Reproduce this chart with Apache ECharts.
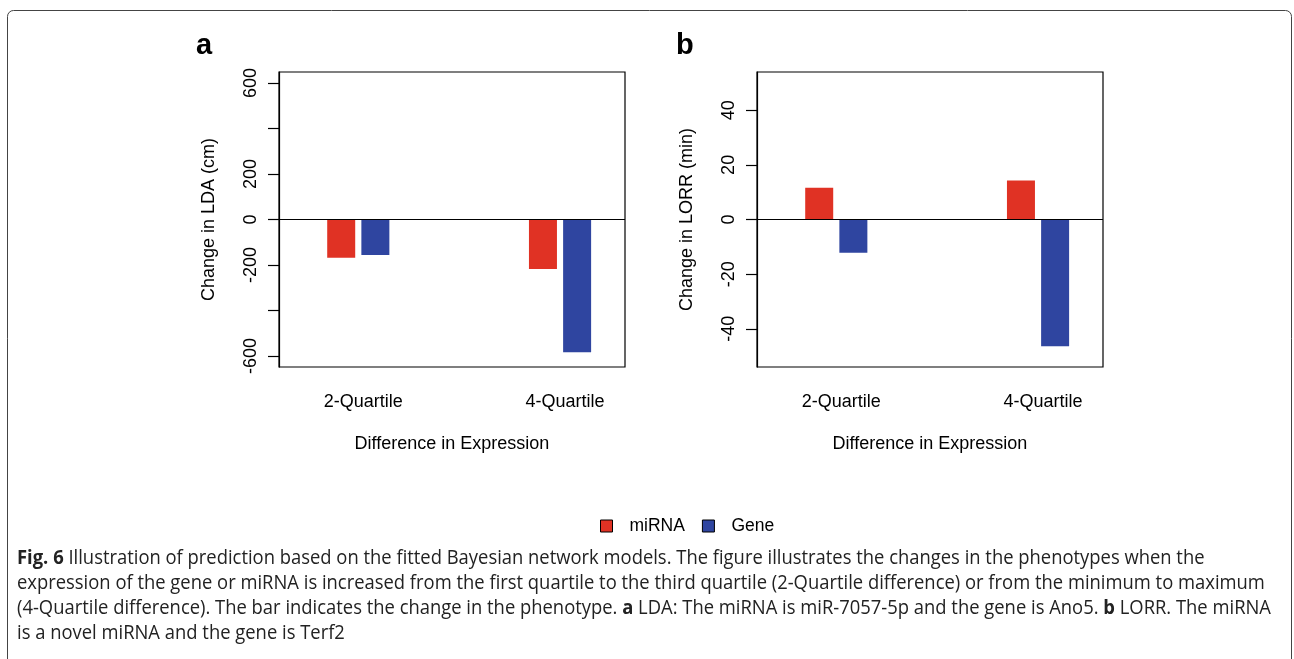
<!DOCTYPE html>
<html>
<head>
<meta charset="utf-8">
<title>Fig. 6 – Bayesian network prediction</title>
<script src="https://cdn.jsdelivr.net/npm/echarts@6/dist/echarts.min.js"></script>
<style>
  html, body { margin: 0; padding: 0; background: #fff; }
  #chart { width: 1294px; height: 659px; }
</style>
</head>
<body>
<div id="chart"></div>
<script>
// ---- data -------------------------------------------------------------
const categories = ['2-Quartile', '4-Quartile'];
const seriesNames = ['miRNA', 'Gene'];

// panel a: change in LDA (cm)
const ldaMiRNA = [-168, -218];
const ldaGene = [-156, -583];
const ldaTicks = [-600, -400, -200, 0, 200, 400, 600];
const ldaTickLabels = [-600, -200, 0, 200, 600];

// panel b: change in LORR (min)
const lorrMiRNA = [11.6, 14.3];
const lorrGene = [-12.2, -46.4];
const lorrTicks = [-40, -20, 0, 20, 40];
const lorrTickLabels = [-40, -20, 0, 20, 40];

const captionLines = [
  '{b|Fig. 6} Illustration of prediction based on the fitted Bayesian network models. The figure illustrates the changes in the phenotypes when the',
  'expression of the gene or miRNA is increased from the first quartile to the third quartile (2-Quartile difference) or from the minimum to maximum',
  '(4-Quartile difference). The bar indicates the change in the phenotype. {b|a} LDA: The miRNA is miR-7057-5p and the gene is Ano5. {b|b} LORR. The miRNA',
  'is a novel miRNA and the gene is Terf2'
];

// ---- styling ----------------------------------------------------------
const RED = '#E03224';
const BLUE = '#2F45A0';
const FONT = 'Liberation Sans, Arial, Helvetica, sans-serif';
const CAPTION_FONT = 'Open Sans';

const chart = echarts.init(document.getElementById('chart'), null, { renderer: 'canvas' });

const panels = [
  { left: 279, yName: 'Change in LDA (cm)', range: 648, ticks: ldaTicks, labels: ldaTickLabels, mi: ldaMiRNA, ge: ldaGene },
  { left: 757, yName: 'Change in LORR (min)', range: 54, ticks: lorrTicks, labels: lorrTickLabels, mi: lorrMiRNA, ge: lorrGene }
];

const grid = [], xAxis = [], yAxis = [], series = [];
panels.forEach((p, i) => {
  grid.push({
    left: p.left, top: 72, width: 346, height: 295,
    show: true, borderColor: '#000', borderWidth: 1.2, backgroundColor: 'transparent'
  });
  xAxis.push({
    gridIndex: i, type: 'value', min: 0.607, max: 2.322,
    axisLine: { show: false }, axisTick: { show: false }, splitLine: { show: false },
    axisLabel: {
      customValues: [1, 2],
      formatter: v => categories[Math.round(v) - 1],
      fontFamily: FONT, fontSize: 18, color: '#000', margin: 26, padding: [0, 0, 0, 10]
    },
    name: 'Difference in Expression', nameLocation: 'middle', nameGap: 68,
    nameTextStyle: { fontFamily: FONT, fontSize: 18, color: '#000' }
  });
  yAxis.push({
    gridIndex: i, type: 'value', min: -p.range, max: p.range,
    splitLine: { show: false },
    axisLine: { show: true, lineStyle: { color: '#000', width: 1.2 } },
    axisTick: { show: true, length: 11, customValues: p.ticks, lineStyle: { color: '#000', width: 1.2 } },
    axisLabel: {
      customValues: p.labels, rotate: 90, margin: 19,
      fontFamily: FONT, fontSize: 18, color: '#000'
    },
    name: p.yName, nameLocation: 'middle', nameGap: 61, nameRotate: 90,
    nameTextStyle: { fontFamily: FONT, fontSize: 18, color: '#000' }
  });
  [[seriesNames[0], p.mi, RED], [seriesNames[1], p.ge, BLUE]].forEach(([name, vals, color], k) => {
    const s = {
      name, type: 'bar', xAxisIndex: i, yAxisIndex: i,
      data: categories.map((c, j) => [j + 1, vals[j]]),
      barWidth: 28, barGap: '22%',
      itemStyle: { color },
      emphasis: { disabled: true },
      silent: true
    };
    if (k === 0) {
      // horizontal reference line at zero
      s.markLine = {
        silent: true, symbol: ['none', 'none'], label: { show: false },
        lineStyle: { color: '#000', type: 'solid', width: 1.2 },
        data: [{ yAxis: 0 }]
      };
    }
    series.push(s);
  });
});

// caption text: measure the longest line to set a common horizontal scale
const ctx = document.createElement('canvas').getContext('2d');
function lineWidth(str) {
  let w = 0;
  str.split(/(\{b\|[^}]*\})/).forEach(part => {
    const m = part.match(/^\{b\|([^}]*)\}$/);
    ctx.font = (m ? 'bold ' : '') + '20px "' + CAPTION_FONT + '"';
    w += ctx.measureText(m ? m[1] : part).width;
  });
  return w;
}
const captionLeft = 17;
const captionScale = (1271 - captionLeft) / lineWidth(captionLines[2]);
const captionY = [558, 583, 608, 633];

const graphic = [
  {
    type: 'rect', silent: true,
    shape: { x: 7.5, y: 10.5, width: 1284, height: 720, r: 6 },
    style: { fill: 'none', stroke: '#444', lineWidth: 1 }
  },
  { type: 'text', x: 196, y: 46, style: { text: 'a', font: 'bold 29px ' + FONT, fill: '#000', verticalAlign: 'middle' } },
  { type: 'text', x: 676, y: 46, style: { text: 'b', font: 'bold 29px ' + FONT, fill: '#000', verticalAlign: 'middle' } }
];
captionLines.forEach((t, i) => {
  graphic.push({
    type: 'text', x: captionLeft, y: captionY[i], scaleX: captionScale, scaleY: 1,
    style: {
      text: t, fontFamily: CAPTION_FONT, fontSize: 20, fill: '#222', verticalAlign: 'middle',
      rich: { b: { fontFamily: CAPTION_FONT, fontSize: 20, fontWeight: 'bold', fill: '#222' } }
    }
  });
});

chart.setOption({
  backgroundColor: '#fff',
  animation: false,
  legend: {
    data: seriesNames, left: 595, top: 512,
    icon: 'rect', itemWidth: 12, itemHeight: 12, itemGap: 17,
    itemStyle: { borderColor: '#000', borderWidth: 1 },
    textStyle: { fontFamily: FONT, fontSize: 17.5, color: '#000', padding: [0, 0, 0, 12] },
    selectedMode: false
  },
  grid, xAxis, yAxis, series, graphic
});
</script>
</body>
</html>
